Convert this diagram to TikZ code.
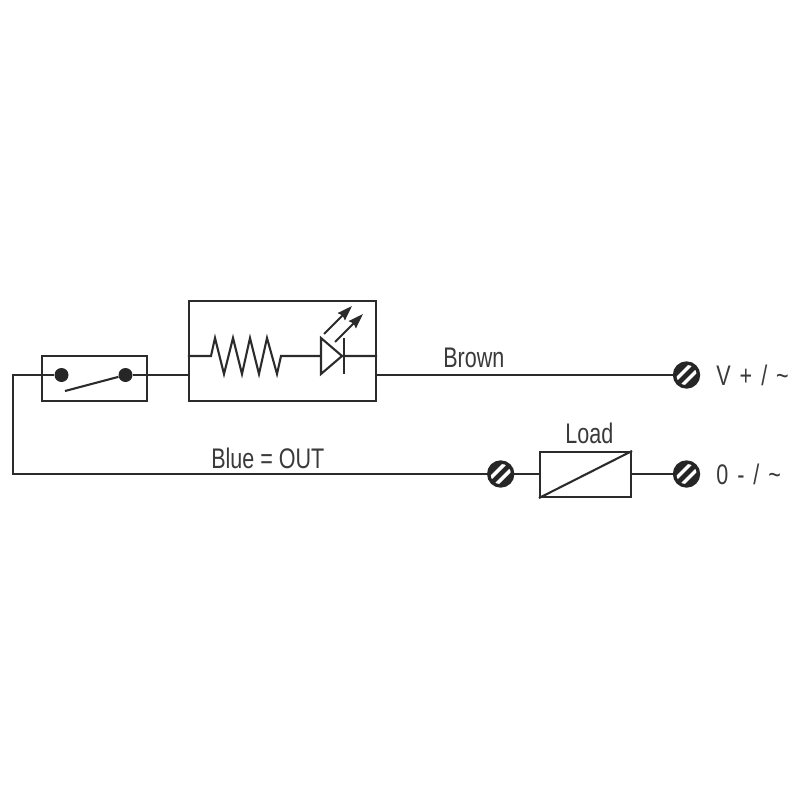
\documentclass[tikz,border=0pt]{standalone}
\usepackage{fontspec}
\setmainfont[FakeStretch=0.76]{Liberation Sans}
\usetikzlibrary{positioning}
\usetikzlibrary{calc,arrows.meta}
\definecolor{wirecol}{HTML}{2B2B2B}
\definecolor{textcol}{HTML}{3A3A3A}
\tikzset{
  wire/.style = {draw=wirecol, line width=1.25pt},
  ledarrow/.style = {wire, -{Stealth[length=9pt,width=6pt,inset=1pt]}},
  boxnode/.style = {rectangle, draw=wirecol, line width=1.25pt, inner sep=0pt},
  contact/.style = {circle, fill=black!85, inner sep=0pt, minimum size=14*0.6pt},
  terminal/.style = {circle, draw=black!85, fill=black!85, line width=2pt,
    inner sep=0pt, minimum size=24*0.6pt, path picture={
      \draw[white, line width=2.1pt] ($(path picture bounding box.center)+(-15.7,9.7)$) -- ($(path picture bounding box.center)+(9.7,-15.7)$);
      \draw[white, line width=2.1pt] ($(path picture bounding box.center)+(-9.7,15.7)$) -- ($(path picture bounding box.center)+(15.7,-9.7)$);
    }},
  lbl/.style = {font=\fontsize{17}{17}\selectfont, text=textcol, inner sep=0pt},
  widelbl/.style = {lbl, execute at begin node={\spaceskip=5.4pt}}
}
\begin{document}
\begin{tikzpicture}[x=0.6pt,y=-0.6pt]
\useasboundingbox (0,0) rectangle (800,800);
\fill[white] (0,0) rectangle (800,800);
% boxes
\node [boxnode, minimum width=105*0.6pt, minimum height=45*0.6pt] (switchbox) at (94.5,378.5) {};
\node [boxnode, minimum width=187*0.6pt, minimum height=100*0.6pt] (sensorbox) at (282.5,351) {};
\node [boxnode, minimum width=91*0.6pt, minimum height=45*0.6pt] (loadbox) at (585.5,474.5) {};
% contacts and terminals
\node [contact] (contactl) at (61.5,375) {};
\node [contact] (contactr) at (125.5,375) {};
\node [terminal] (termv) at (686.5,375) {};
\node [terminal] (termo) at (686.5,474) {};
\node [terminal] (termout) at (500.7,474) {};
% outer wires
\coordinate (corner1) at (13,375);
\coordinate (corner2) at (13,474);
\draw [wire] (contactl) -- (corner1) -- (corner2) -- (termout);
\draw [wire] (contactr) -- (sensorbox.west |- contactr);
\draw [wire] (sensorbox.east |- termv) -- (termv);
\draw [wire] (termout) -- (loadbox.west |- termout);
\draw [wire] (loadbox.east |- termo) -- (termo);
\draw [wire] (loadbox.south west) -- (loadbox.north east);
% switch blade
\coordinate (bladeend) at (65,391);
\draw [wire] (bladeend) -- (contactr);
% resistor and led
\coordinate (resin) at (sensorbox.west |- 0,356);
\coordinate (ledout) at (sensorbox.east |- 0,356);
\draw [wire, line join=miter] (resin) -- (211,356) -- (215,338) -- (224,374) -- (233,338) -- (242,374)
  -- (250,338) -- (259,374) -- (267,338) -- (277,374) -- (281,356) -- (ledout);
\draw [wire, fill=white] (321,338) -- (342,356) -- (321,374) -- cycle;
\draw [wire] (344,338) -- (344,374);
\draw [ledarrow] (324,334) -- (352,306);
\draw [ledarrow] (335,342) -- (363,314);
% labels
\node [lbl, anchor=west] (brown) at (443,358) {Brown};
\node [lbl, anchor=west] (blue) at (211,458) {Blue = OUT};
\node [lbl, anchor=west] (load) at (565,433) {Load};
\node [widelbl, anchor=west] (vplus) at (716,375) {V + / \char`\~};
\node [widelbl, anchor=west] (ominus) at (716,474) {0 - / \char`\~};
\end{tikzpicture}
\end{document}
